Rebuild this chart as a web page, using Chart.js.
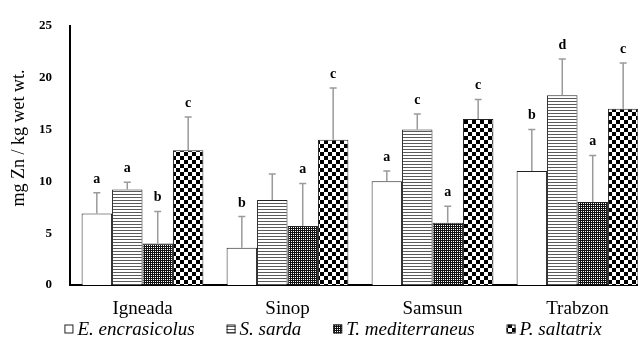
<!DOCTYPE html>
<html>
<head>
<meta charset="utf-8">
<script src="https://cdn.jsdelivr.net/npm/chart.js@4.4.0/dist/chart.umd.min.js"></script>
<style>
  html, body { margin: 0; padding: 0; overflow: hidden; background: #fff; }
  #wrap { width: 660px; height: 345px; }
</style>
</head>
<body>
<div id="wrap"><canvas id="znChart" width="660" height="345"></canvas></div>
<script>
// data
const sites = ["Igneada", "Sinop", "Samsun", "Trabzon"];
const speciesNames = ["E. encrasicolus", "S. sarda", "T. mediterraneus", "P. saltatrix"];

const encrasicolus = [6.9, 3.6, 10.0, 11.0];
const sarda        = [9.2, 8.2, 15.0, 18.3];
const mediterran   = [4.0, 5.7, 6.0, 8.0];
const saltatrix    = [13.0, 14.0, 16.0, 17.0];

const encrasicolusErr = [2.0, 3.0, 1.0, 4.0];
const sardaErr        = [0.7, 2.5, 1.5, 3.5];
const mediterranErr   = [3.1, 4.1, 1.6, 4.5];
const saltatrixErr    = [3.2, 5.0, 1.9, 4.4];

const encrasicolusLetters = ["a", "b", "a", "b"];
const sardaLetters        = ["a", "", "c", "d"];
const mediterranLetters   = ["b", "a", "a", "a"];
const saltatrixLetters    = ["c", "c", "c", "c"];

const yTicks = [0, 5, 10, 15, 20, 25];

const serif = "'Liberation Serif', 'Times New Roman', serif";

// fill patterns
function makePattern(w, h, draw) {
  var c = document.createElement("canvas");
  c.width = w; c.height = h;
  var g = c.getContext("2d");
  g.fillStyle = "#fff";
  g.fillRect(0, 0, w, h);
  draw(g);
  return document.getElementById("znChart").getContext("2d").createPattern(c, "repeat");
}

const fillWhite = "#ffffff";
const fillStripes = makePattern(4, 3, function(g){
  g.fillStyle = "#5a5a5a";
  g.fillRect(0, 2, 4, 1);
});
const fillFine = makePattern(2, 2, function(g){
  g.fillStyle = "#111";
  g.fillRect(0, 0, 2, 2);
  g.fillStyle = "#fff";
  g.fillRect(1, 1, 1, 1);
});
const fillChecker = makePattern(8, 8, function(g){
  g.fillStyle = "#000";
  g.fillRect(0, 0, 4, 4);
  g.fillRect(4, 4, 4, 4);
});

// error bars + letters
const errorBarPlugin = {
  id: "errorBars",
  afterDatasetsDraw(chart) {
    const ctx = chart.ctx;
    const y = chart.scales.y;
    ctx.save();
    chart.data.datasets.forEach(function(ds, i){
      const meta = chart.getDatasetMeta(i);
      meta.data.forEach(function(bar, j){
        const top = y.getPixelForValue(ds.data[j] + ds.errors[j]);
        ctx.strokeStyle = "#9a9a9a";
        ctx.lineWidth = 1.5;
        ctx.beginPath();
        ctx.moveTo(bar.x, bar.y);
        ctx.lineTo(bar.x, top);
        ctx.moveTo(bar.x - 3.5, top);
        ctx.lineTo(bar.x + 3.5, top);
        ctx.stroke();
        if (ds.letters[j]) {
          ctx.fillStyle = "#000";
          ctx.font = "bold 14px " + serif;
          ctx.textAlign = "center";
          ctx.textBaseline = "alphabetic";
          ctx.fillText(ds.letters[j], bar.x, top - 10);
        }
      });
    });
    ctx.restore();
  }
};

// y title and legend drawn by hand
const extrasPlugin = {
  id: "extras",
  afterDraw(chart) {
    const ctx = chart.ctx;
    ctx.save();
    ctx.fillStyle = "#000";
    ctx.font = "18px " + serif;
    ctx.translate(19, 138);
    ctx.rotate(-Math.PI / 2);
    ctx.textAlign = "center";
    ctx.textBaseline = "middle";
    ctx.fillText("mg Zn / kg wet wt.", 0, 0);
    ctx.restore();

    ctx.save();
    ctx.font = "italic 19px " + serif;
    const box = 9, gapText = 4, gapItem = 32;
    const items = chart.data.datasets.map(function(ds){
      return { ds: ds, w: box + gapText + ctx.measureText(ds.label).width };
    });
    let total = 0;
    items.forEach(function(it){ total += it.w; });
    total += gapItem * (items.length - 1);
    let x = chart.width / 2 + 3 - total / 2;
    const cy = 329;
    items.forEach(function(it){
      ctx.fillStyle = it.ds.backgroundColor;
      ctx.fillRect(x, cy - box / 2, box, box);
      ctx.strokeStyle = "#222";
      ctx.lineWidth = 1;
      ctx.strokeRect(x + 0.5, cy - box / 2 + 0.5, box - 1, box - 1);
      ctx.fillStyle = "#000";
      ctx.textAlign = "left";
      ctx.textBaseline = "middle";
      ctx.fillText(it.ds.label, x + box + gapText, cy + 1);
      x += it.w + gapItem;
    });
    ctx.restore();
  }
};

function series(idx, data, err, letters, fill) {
  return {
    label: speciesNames[idx],
    data: data,
    errors: err,
    letters: letters,
    backgroundColor: fill,
    borderColor: "#222",
    borderWidth: 1,
    categoryPercentage: 0.84,
    barPercentage: 1.0
  };
}

const znChart = new Chart("znChart", {
  type: "bar",
  data: {
    labels: sites,
    datasets: [
      series(0, encrasicolus, encrasicolusErr, encrasicolusLetters, fillWhite),
      series(1, sarda, sardaErr, sardaLetters, fillStripes),
      series(2, mediterran, mediterranErr, mediterranLetters, fillFine),
      series(3, saltatrix, saltatrixErr, saltatrixLetters, fillChecker)
    ]
  },
  options: {
    responsive: false,
    animation: false,
    layout: { padding: { top: 23, right: 10, left: 0, bottom: 0 } },
    plugins: {
      legend: { display: false },
      tooltip: { enabled: false }
    },
    scales: {
      x: {
        grid: { display: false },
        border: { display: true, color: "#000", width: 2 },
        ticks: { color: "#000", padding: 5, font: { family: serif, size: 19 } },
        afterFit: function(s){ s.height = 60; }
      },
      y: {
        min: 0,
        max: 25,
        grid: { display: false, drawTicks: false },
        border: { display: true, color: "#000", width: 2 },
        afterBuildTicks: function(s){ s.ticks = yTicks.map(function(v){ return { value: v }; }); },
        ticks: { color: "#000", padding: 18, font: { family: serif, size: 13, weight: "bold" } },
        afterFit: function(s){ s.width = 70; }
      }
    }
  },
  plugins: [errorBarPlugin, extrasPlugin]
});
</script>
</body>
</html>
